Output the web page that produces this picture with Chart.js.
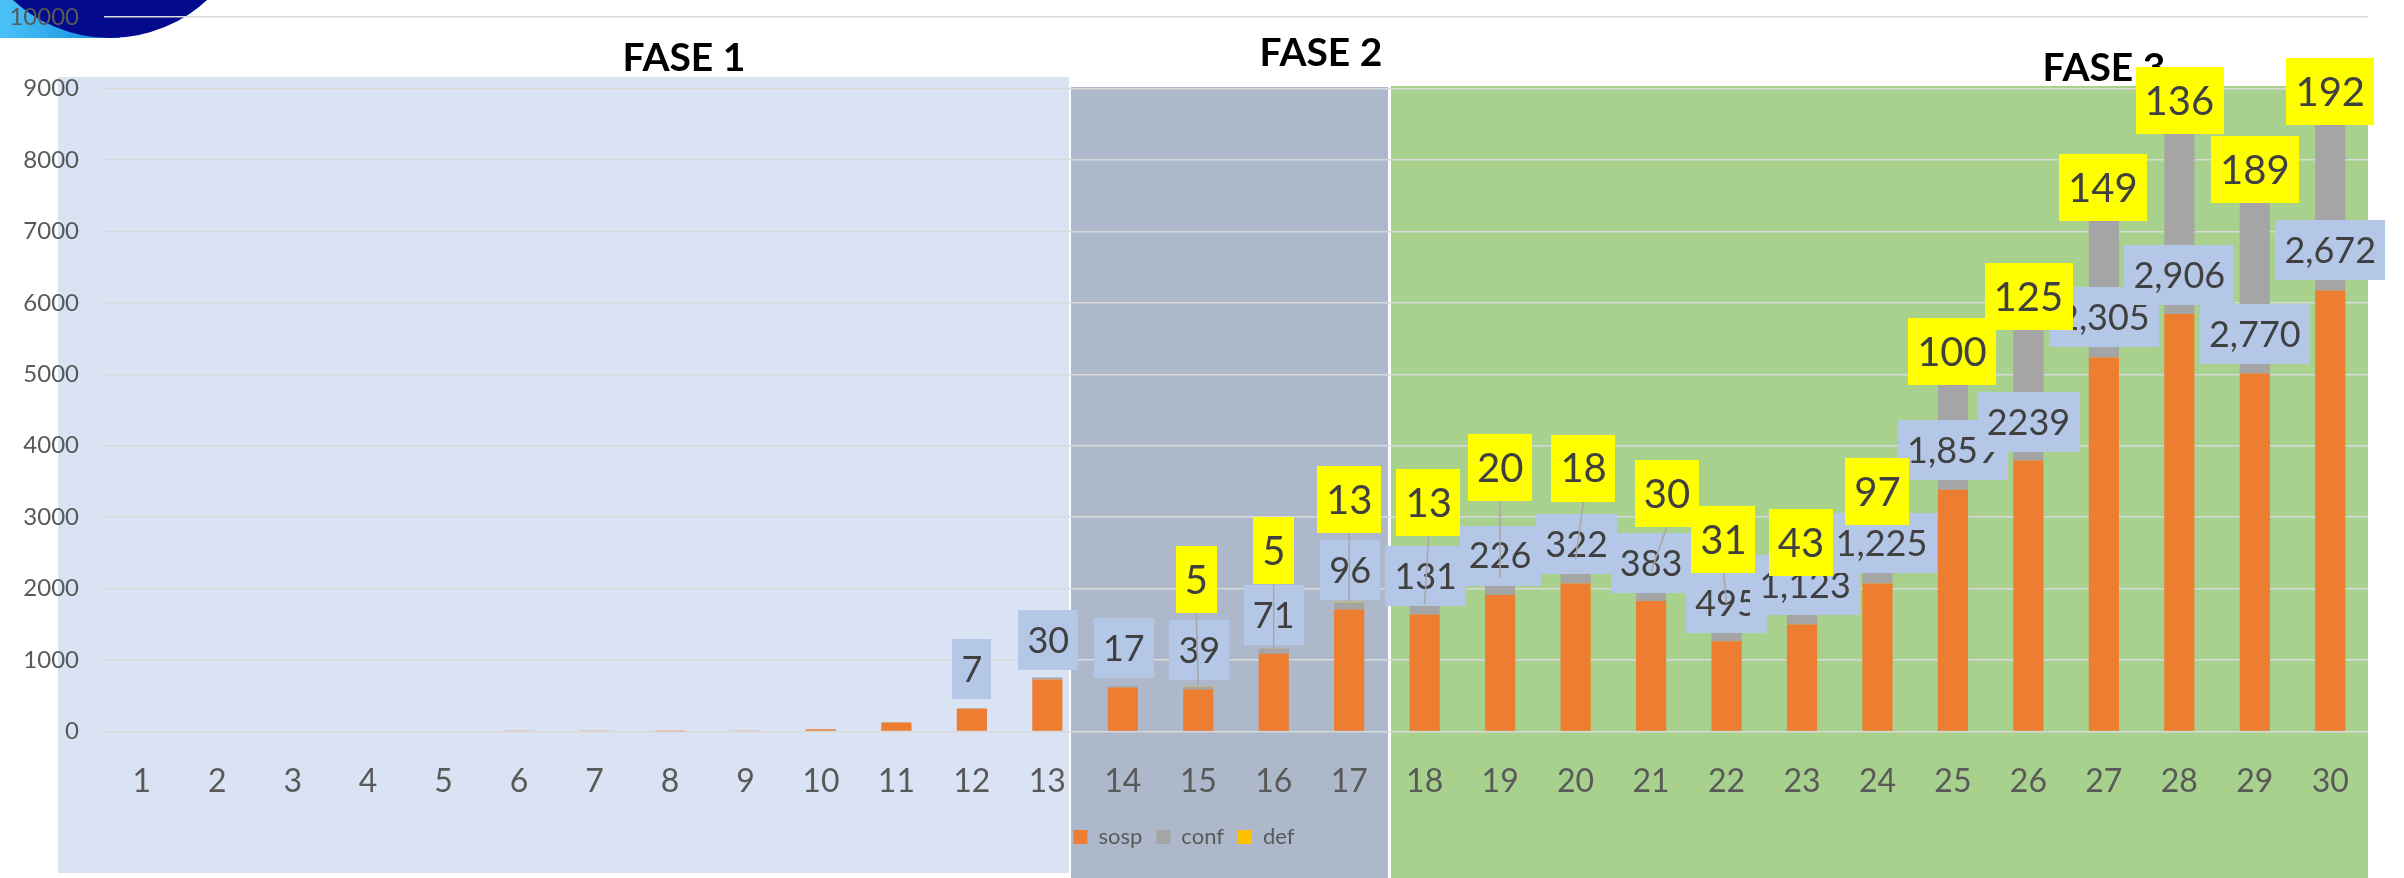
<!DOCTYPE html>
<html>
<head>
<meta charset="utf-8">
<script src="https://cdn.jsdelivr.net/npm/chart.js@4.4.1/dist/chart.umd.min.js"></script>
<style>
  html, body { margin: 0; padding: 0; background: #fff; }
  #wrap { width: 2404px; height: 878px; }
</style>
</head>
<body>
<div id="wrap"><canvas id="myChart" width="2404" height="878"></canvas></div>
<script>
// data
const days = ['1','2','3','4','5','6','7','8','9','10','11','12','13','14','15',
              '16','17','18','19','20','21','22','23','24','25','26','27','28','29','30'];
const sosp = [0, 0, 0, 0, 0, 15, 15, 3, 15, 33, 128, 320, 728, 618, 590,
              1091, 1709, 1639, 1910, 2074, 1826, 1264, 1498, 2074, 3385, 3792, 5234, 5843, 5010, 6171];
const conf = [0, 0, 0, 0, 0, 0, 0, 0, 0, 0, 3, 7, 30, 17, 39,
              71, 96, 131, 226, 322, 383, 495, 1123, 1225, 1859, 2239, 2305, 2906, 2770, 2672];
const def = [0, 0, 0, 0, 0, 0, 0, 0, 0, 0, 0, 0, 0, 0, 5,
             5, 13, 13, 20, 18, 30, 31, 43, 97, 100, 125, 149, 136, 189, 192];
const confText = [null, null, null, null, null, null, null, null, null, null, null, '7', '30', '17', '39',
                  '71', '96', '131', '226', '322', '383', '495', '1,123', '1,225', '1,859', '2239', '2,305', '2,906', '2,770', '2,672'];
const phases = ['FASE 1', 'FASE 2', 'FASE 3'];

// label placement (px, from the top of each stack), set by hand in the original
const confDx = [0,0,0,0,0,0,0,0,0,0,0, 0, 1, 1, 1, 0, 1, 1, 0, 1, 0, 0, 3, 4, 0, 0, 0, 0, 0, 0];
const confDy = [0,0,0,0,0,0,0,0,0,0,0, -39, -37, -38, -36, -33, -32, -28, -22, -15, -9, -1, 44, 54, 100, 130, 135, 178, 172, 164];
const defDx  = [0,0,0,0,0,0,0,0,0,0,0,0,0,0, -2, 0, 0, 4, 0, 8, 16, -3, -1, 0, -1, 0, -1, 0, 0, 0];
const defDy  = [0,0,0,0,0,0,0,0,0,0,0,0,0,0, -107, -98, -102, -102, -110, -91, -78, -64, 1, 3, 2, 5, 5, 4, 7, 6];

const FONT = 'Lato, "Open Sans", sans-serif';

// slide decoration behind the chart: logo, phase panels, phase titles
const backdrop = {
  id: 'backdrop',
  beforeDraw(chart) {
    const ctx = chart.ctx;
    ctx.save();
    ctx.fillStyle = '#fff';
    ctx.fillRect(0, 0, chart.width, chart.height);

    // logo corner
    const g = ctx.createLinearGradient(0, 0, 120, 0);
    g.addColorStop(0, '#4cc3f7');
    g.addColorStop(1, '#0b86dc');
    ctx.fillStyle = g;
    ctx.fillRect(0, 0, 120, 38);
    ctx.beginPath();
    ctx.arc(110, -105, 143, 0, Math.PI);
    ctx.fillStyle = '#030b8c';
    ctx.fill();

    // phase panels
    ctx.fillStyle = '#dae3f3';
    ctx.fillRect(58, 77, 1011, 796);
    ctx.fillStyle = '#adb9ca';
    ctx.fillRect(1071, 87, 317, 791);
    ctx.fillStyle = '#a9d18e';
    ctx.fillRect(1391, 86, 977, 792);

    // phase titles
    ctx.fillStyle = '#000';
    ctx.font = 'bold 39px ' + FONT;
    ctx.textAlign = 'center';
    ctx.textBaseline = 'alphabetic';
    ctx.fillText(phases[0], 684, 57 + 14);
    ctx.fillText(phases[1], 1321, 52 + 14);
    ctx.fillText(phases[2], 2104, 67 + 14);
    ctx.restore();
  }
};

function box(ctx, text, cx, cy, fill, size, h) {
  ctx.font = size + 'px ' + FONT;
  const w = ctx.measureText(text).width + 18;
  ctx.fillStyle = fill;
  ctx.fillRect(Math.round(cx - w / 2), Math.round(cy - h / 2), Math.round(w), h);
  ctx.fillStyle = '#404040';
  ctx.fillText(text, cx, cy + size * 0.36);
}

// data labels: blue boxes for conf, yellow boxes for def, with leader lines
const valueBoxes = {
  id: 'valueBoxes',
  afterDatasetsDraw(chart) {
    const ctx = chart.ctx;
    const xs = chart.scales.x, ys = chart.scales.y;
    ctx.save();
    ctx.textAlign = 'center';
    ctx.textBaseline = 'alphabetic';
    const tops = days.map((d, i) => ys.getPixelForValue(sosp[i] + conf[i] + def[i]));

    days.forEach((d, i) => {
      if (!confText[i]) return;
      box(ctx, confText[i], xs.getPixelForValue(i) + confDx[i], tops[i] + confDy[i], '#b4c7e7', 36, 60);
    });

    ctx.strokeStyle = '#a6a6a6';
    ctx.lineWidth = 1.5;
    days.forEach((d, i) => {
      if (!def[i] || defDy[i] > -40) return;
      const x = xs.getPixelForValue(i);
      ctx.beginPath();
      ctx.moveTo(x + defDx[i], tops[i] + defDy[i] + 33);
      ctx.lineTo(x, tops[i]);
      ctx.stroke();
    });

    days.forEach((d, i) => {
      if (!def[i]) return;
      box(ctx, String(def[i]), xs.getPixelForValue(i) + defDx[i], tops[i] + defDy[i], '#ffff00', 40, 67);
    });
    ctx.restore();
  }
};

const data = {
  labels: days,
  datasets: [
    { label: 'sosp', data: sosp, backgroundColor: '#ed7d31' },
    { label: 'conf', data: conf, backgroundColor: '#a5a5a5' },
    { label: 'def', data: def, backgroundColor: '#ffc000' }
  ].map(ds => Object.assign(ds, { barPercentage: 0.4, categoryPercentage: 1.0, borderWidth: 0 }))
};

const config = {
  type: 'bar',
  data: data,
  plugins: [backdrop, valueBoxes],
  options: {
    responsive: false,
    devicePixelRatio: 1,
    animation: false,
    layout: { padding: { left: 0, right: 36, top: 17, bottom: 20 } },
    plugins: {
      tooltip: { enabled: false },
      legend: {
        position: 'bottom',
        labels: {
          color: '#595959',
          font: { family: FONT, size: 22 },
          boxWidth: 14,
          boxHeight: 14,
          padding: 14
        }
      }
    },
    scales: {
      x: {
        stacked: true,
        grid: { display: false },
        border: { display: false },
        afterFit: s => { s.height -= 12; },
        ticks: {
          color: '#595959',
          font: { family: FONT, size: 32 },
          padding: 23,
          autoSkip: false,
          maxRotation: 0
        }
      },
      y: {
        stacked: true,
        min: 0,
        max: 10000,
        afterFit: s => { s.width = 104; s.paddingTop = 0; s.paddingBottom = 0; },
        grid: { color: '#d9d9d9', lineWidth: 1.5, drawTicks: false },
        border: { display: false },
        ticks: {
          stepSize: 1000,
          color: '#595959',
          font: { family: FONT, size: 24 },
          padding: 25,
          callback: v => String(v)
        }
      }
    }
  }
};

const myChart = new Chart(document.getElementById('myChart'), config);
</script>
</body>
</html>
